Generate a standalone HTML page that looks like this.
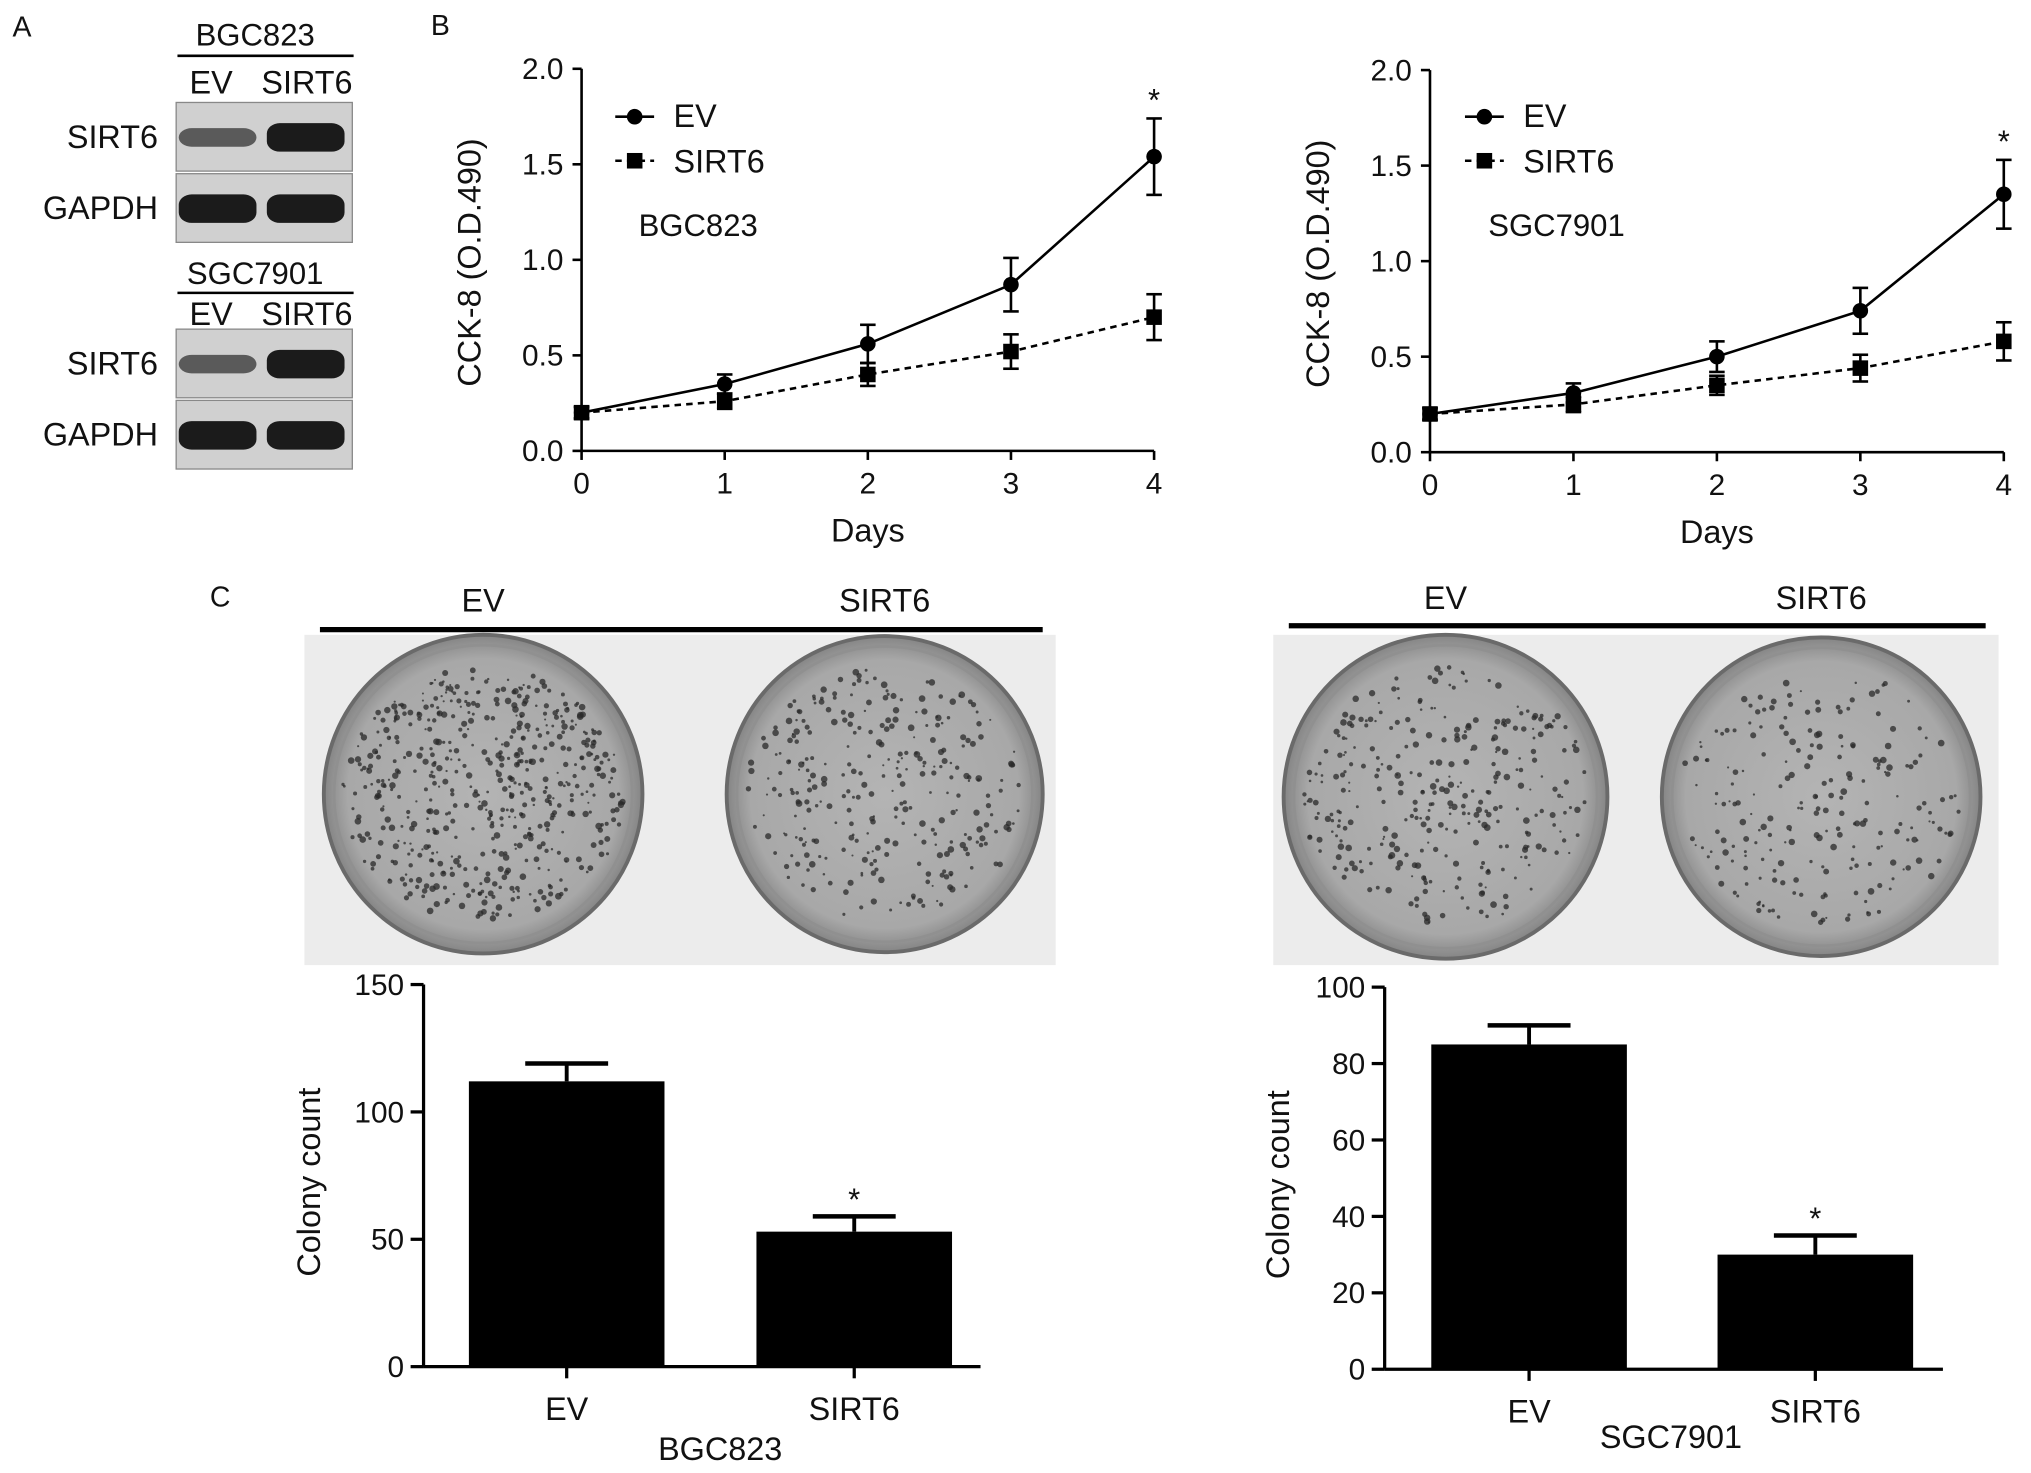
<!DOCTYPE html>
<html><head><meta charset="utf-8">
<style>
html,body{margin:0;padding:0;background:#fff;}
svg{display:block;}
text{font-family:"Liberation Sans",Arial,sans-serif;fill:#111;}
</style></head>
<body>
<svg id="fig" width="2031" height="1473" viewBox="0 0 1568 1137" xmlns="http://www.w3.org/2000/svg">
<defs>
<radialGradient id="plateG" cx="50%" cy="50%" r="50%">
<stop offset="0%" stop-color="#b4b4b4"/><stop offset="85%" stop-color="#a8a8a8"/><stop offset="100%" stop-color="#858585"/>
</radialGradient>
</defs>
<g id="root"></g>
</svg>
<script>
// ---------- DATA ----------
const days = [0,1,2,3,4];
const yTicksCCK = [0.0,0.5,1.0,1.5,2.0];
const bgcEV = [0.2,0.35,0.56,0.87,1.54];
const bgcEVerr = [0.03,0.05,0.1,0.14,0.2];
const bgcSI = [0.2,0.26,0.4,0.52,0.7];
const bgcSIerr = [0.03,0.04,0.06,0.09,0.12];
const sgcEV = [0.2,0.31,0.5,0.74,1.35];
const sgcEVerr = [0.03,0.05,0.08,0.12,0.18];
const sgcSI = [0.2,0.25,0.35,0.44,0.58];
const sgcSIerr = [0.03,0.04,0.05,0.07,0.1];
const barCats = ["EV","SIRT6"];
const bgcCount = [112,53];
const bgcCountErr = [7,6];
const sgcCount = [85,30];
const sgcCountErr = [5,5];
const bgcBarTicks = [0,50,100,150];
const sgcBarTicks = [0,20,40,60,80,100];

const NS="http://www.w3.org/2000/svg";
const root=document.getElementById('root');
function el(tag,attrs,parent,txt){const e=document.createElementNS(NS,tag);for(const k in attrs)e.setAttribute(k,attrs[k]);if(txt!==undefined)e.textContent=txt;(parent||root).appendChild(e);return e;}
function T(x,y,s,size,anchor,name,parent){const t=el('text',{x:x,y:y,'font-size':size||22,'text-anchor':anchor||'middle'},parent,s);


return t;}
function L(x1,y1,x2,y2,w,parent,dash){const a={x1:x1,y1:y1,x2:x2,y2:y2,stroke:'#000','stroke-width':w||2};if(dash)a['stroke-dasharray']=dash;return el('line',a,parent);}

// ---------- Panel A ----------
T(17,28,"A",22,'middle','panel-a-label');
function blot(y0,cell,labY,lineY,laneY){
  const g=el('g',{});
  
  
  T(197,labY,cell,24,'middle','cell-line-label',g);
  L(137,lineY,273,lineY,2,g);
  T(163,laneY,"EV",25,'middle','lane-ev',g);
  T(237,laneY,"SIRT6",25,'middle','lane-sirt6',g);
  const rows=[["SIRT6",y0,[0.45,1]],["GAPDH",y0+55,[1,1]]];
  rows.forEach(r=>{
    el('rect',{x:136,y:r[1],width:136,height:53,fill:'#d0d0d0',stroke:'#888','stroke-width':1},g);
    T(122,r[1]+35,r[0],25,'end','blot-row-label',g);
    [168,236].forEach((cx,i)=>{const s=r[2][i];
      el('rect',{x:cx-30,y:r[1]+27-(4+7*s),width:60,height:2*(4+7*s),rx:10,ry:8,fill:'#111',opacity:0.35+0.6*s},g);});
  });
}
blot(79,"BGC823",35,43,72);
blot(254,"SGC7901",219,226,251);

// ---------- Panel B ----------
T(340,27,"B",22,'middle','panel-b-label');
function lineChart(ax0,ay0,ax1,ay1,ev,everr,si,sierr,cell,legX){
  const g=el('g',{});
  
  
  const xs=d=>ax0+(ax1-ax0)*d/4, ys=v=>ay0-(ay0-ay1)*v/2;
  L(ax0,ay0,ax0,ay1,2,g); L(ax0,ay0,ax1,ay0,2,g);
  yTicksCCK.forEach(v=>{L(ax0-7,ys(v),ax0,ys(v),2,g);T(ax0-14,ys(v)+8,v.toFixed(1),23,'end','y-tick-label',g);});
  days.forEach(d=>{L(xs(d),ay0,xs(d),ay0+7,2,g);T(xs(d),ay0+33,String(d),23,'middle','x-tick-label',g);});
  T((ax0+ax1)/2,ay0+70,"Days",25,'middle','x-axis-title',g);
  const tx=ax0-78, cy=(ay0+ay1)/2+2;
  const tt=T(tx,cy,"CCK-8 (O.D.490)",25,'middle','y-axis-title',g);
  tt.setAttribute('transform','rotate(-90 '+tx+' '+cy+')');
  function series(vals,errs,dash,marker,name){
    const sg=el('g',{},g);
    
    
    el('polyline',{points:days.map((d,i)=>xs(d)+','+ys(vals[i])).join(' '),fill:'none',stroke:'#000','stroke-width':2,'stroke-dasharray':dash||'none'},sg);
    days.forEach((d,i)=>{const x=xs(d);
      L(x,ys(vals[i]-errs[i]),x,ys(vals[i]+errs[i]),2,sg);
      L(x-6,ys(vals[i]-errs[i]),x+6,ys(vals[i]-errs[i]),2,sg);
      L(x-6,ys(vals[i]+errs[i]),x+6,ys(vals[i]+errs[i]),2,sg);
      if(marker==='c') el('circle',{cx:x,cy:ys(vals[i]),r:6,fill:'#000'},sg);
      else el('rect',{x:x-6,y:ys(vals[i])-6,width:12,height:12,fill:'#000'},sg);
    });
  }
  series(ev,everr,null,'c','series-ev');
  series(si,sierr,'5,4','s','series-sirt6');
  T(xs(4),ys(ev[4]+everr[4])-6,"*",24,'middle','significance-star',g);
  L(legX,90,legX+30,90,2,g); el('circle',{cx:legX+15,cy:90,r:6,fill:'#000'},g);
  T(legX+45,98,"EV",25,'start','legend-ev',g);
  L(legX,124,legX+30,124,2,g,'5,4'); el('rect',{x:legX+9,y:118,width:12,height:12,fill:'#000'},g);
  T(legX+45,133,"SIRT6",25,'start','legend-sirt6',g);
  T(legX+18,182,cell,24,'start','chart-cell-label',g);
}
lineChart(449,348,891,53,bgcEV,bgcEVerr,bgcSI,bgcSIerr,"BGC823",475);
lineChart(1104,349,1547,54,sgcEV,sgcEVerr,sgcSI,sgcSIerr,"SGC7901",1131);

// ---------- Panel C plates ----------
T(170,468,"C",22,'middle','panel-c-label');
let seed=7;function rnd(){seed=(seed*16807)%2147483647;return seed/2147483647;}
function plates(x0,x1,lineY,labY,c1,c2,n1,n2,name){
  const g=el('g',{});
  
  
  T(c1[0],labY,"EV",25,'middle','plate-label-ev',g);
  T(c2[0],labY,"SIRT6",25,'middle','plate-label-sirt6',g);
  L(x0+12,lineY,x1-10,lineY,4,g);
  el('rect',{x:x0,y:490,width:x1-x0,height:255,fill:'#ececec'},g);
  [[c1,n1],[c2,n2]].forEach(([c,n])=>{
    el('circle',{cx:c[0],cy:c[1],r:c[2],fill:'url(#plateG)',stroke:'#6a6a6a','stroke-width':3},g);
    el('circle',{cx:c[0],cy:c[1],r:c[2]-8,fill:'none',stroke:'#909090','stroke-width':2},g);
    for(let i=0;i<n;i++){const a=rnd()*6.283,r=Math.sqrt(rnd())*(c[2]-14);
      el('circle',{cx:c[0]+r*Math.cos(a),cy:c[1]+r*Math.sin(a)*0.9,r:0.8+rnd()*1.8,fill:'#2a2a2a',opacity:0.75},g);}
  });
}
plates(235,815,486,472,[373,613,123],[683,613,122],550,300,'plates-bgc823');
plates(983,1543,483,470,[1116,615,125],[1406,615,123],320,220,'plates-sgc7901');

// ---------- Bar charts ----------
function barChart(ax,ay0,ay1,max,ticks,vals,errs,barX,barW,cell,cellX,cellY,titleX,axEnd){
  const g=el('g',{});
  
  
  const ys=v=>ay0-(ay0-ay1)*v/max;
  L(ax,ay0,ax,ay1,2.5,g); L(ax,ay0,axEnd,ay0,2.5,g);
  ticks.forEach(v=>{L(ax-10,ys(v),ax,ys(v),2.5,g);T(ax-15,ys(v)+8,String(v),23,'end','y-tick-label',g);});
  vals.forEach((v,i)=>{
    const r=el('rect',{x:barX[i],y:ys(v),width:barW,height:ay0-ys(v),fill:'#000'},g);
    
    
    const cx=barX[i]+barW/2;
    L(cx,ys(v),cx,ys(v+errs[i]),3,g);
    L(cx-32,ys(v+errs[i]),cx+32,ys(v+errs[i]),3.5,g);
    L(cx,ay0,cx,ay0+9,2.5,g);
    T(cx,ay0+41,barCats[i],25,'middle','x-tick-label',g);
  });
  const sx=barX[1]+barW/2;
  T(sx,ys(vals[1]+errs[1])-5,"*",24,'middle','significance-star',g);
  T(cellX,cellY,cell,25,'middle','x-axis-title',g);
  const cy=(ay0+ay1)/2+5, tx=titleX;
  const tt=T(tx,cy,"Colony count",25,'middle','y-axis-title',g);
  tt.setAttribute('transform','rotate(-90 '+tx+' '+cy+')');
}
barChart(327,1055,760,150,bgcBarTicks,bgcCount,bgcCountErr,[362,584],151,"BGC823",556,1127,247,757);
barChart(1069,1057,762,100,sgcBarTicks,sgcCount,sgcCountErr,[1105,1326],151,"SGC7901",1290,1118,995,1500);
</script>
</body></html>
